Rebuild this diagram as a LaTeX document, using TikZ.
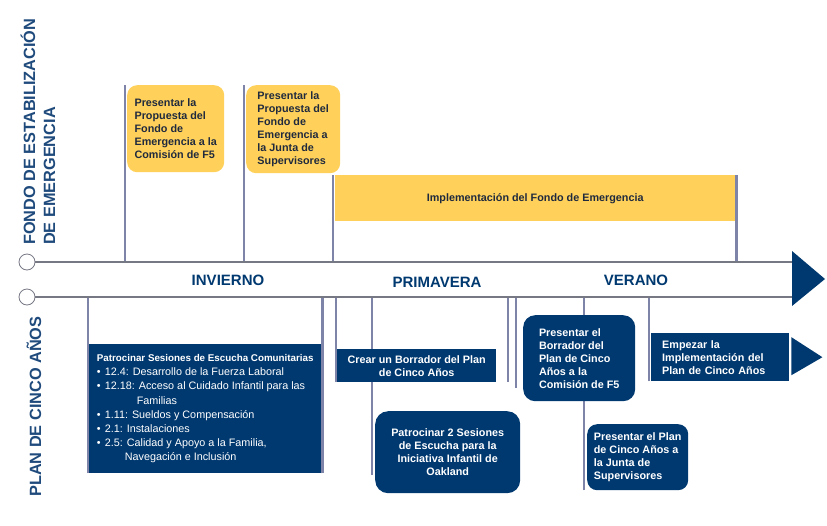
\documentclass[tikz,border=0pt]{standalone}
\usepackage{fontspec}
\setmainfont{Liberation Sans}
\usepackage{xcolor}
\usetikzlibrary{calc, backgrounds}

\definecolor{navy}{RGB}{0,57,112}
\definecolor{gold}{RGB}{255,209,90}
\definecolor{tickgray}{RGB}{125,132,168}
\definecolor{axisgray}{RGB}{118,120,132}
\definecolor{inkdark}{RGB}{32,42,62}
\definecolor{titleblue}{RGB}{31,74,124}

\begin{document}
\begin{tikzpicture}[
  x=1pt, y=-1pt,
  goldbox/.style={
    rectangle,
    fill=gold,
    rounded corners=10pt,
    inner sep=0pt,
    anchor=north west,
    align=left,
    text=inkdark,
    font=\fontsize{10.8}{13}\selectfont\bfseries
  },
  navybox/.style={
    rectangle,
    fill=navy,
    inner sep=0pt,
    anchor=north west,
    text=white,
    font=\fontsize{10.8}{13}\selectfont\bfseries
  },
  vlabel/.style={rotate=90, inner sep=0pt, anchor=west, align=left,
    text=titleblue, font=\fontsize{16.3}{20}\selectfont\bfseries},
  season/.style={text=navy, font=\fontsize{15}{18}\selectfont\bfseries},
  axisline/.style={draw=axisgray, line width=1.2pt},
  stub/.style={draw=axisgray, fill=white, circle, line width=0.8pt,
    minimum size=16pt, inner sep=0pt},
  tick/.style={draw=tickgray, line width=2.6pt}
]
  \useasboundingbox (0,0) rectangle (827,525);

  % Axis
  \node (c1) [stub] at (27,262) {};
  \node (c2) [stub] at (27,297) {};
  \coordinate (arr) at (792,279);
  \draw [axisline] (c1.east) -- (c1.east -| arr);
  \draw [axisline] (c2.east) -- (c2.east -| arr);
  \fill [navy] (arr |- 0,251) -- (825,279) -- (arr |- 0,306) -- cycle;

  \node (inv) [season] at (228,280) {INVIERNO};
  \node (pri) [season] at (437,282) {PRIMAVERA};
  \node (ver) [season] at (636,280) {VERANO};

  % Side titles
  \node (fse) [vlabel] at (38,245) {FONDO DE ESTABILIZACIÓN\\DE EMERGENCIA};
  \node (pca) [vlabel] at (34,497) {PLAN DE CINCO AÑOS};

  % Nodes
  \node (yA) [goldbox, minimum width=97pt, minimum height=87pt] at (127,85)
    {Presentar la\\Propuesta del\\Fondo de\\Emergencia a la\\Comisión de F5};
  \node (yB) [goldbox, minimum width=94pt, minimum height=88pt] at (246,85)
    {Presentar la\\Propuesta del\\Fondo de\\Emergencia a\\la Junta de\\Supervisores};
  \node (impl) [goldbox, rounded corners=0pt, align=center,
    minimum width=400pt, minimum height=46pt] at (335,175)
    {Implementación del Fondo de Emergencia};

  \node (listen) [navybox, align=left, font=\fontsize{10.8}{14.2}\selectfont,
    minimum width=232pt, minimum height=129pt] at (89,344)
    {{\fontsize{9.8}{14.2}\selectfont\bfseries Patrocinar Sesiones de Escucha Comunitarias}\\
     \makebox[8pt][l]{\textbullet}12.4: Desarrollo de la Fuerza Laboral\\
     \makebox[8pt][l]{\textbullet}12.18: Acceso al Cuidado Infantil para las\\
     \hspace*{40pt}Familias\\
     \makebox[8pt][l]{\textbullet}1.11: Sueldos y Compensación\\
     \makebox[8pt][l]{\textbullet}2.1: Instalaciones\\
     \makebox[8pt][l]{\textbullet}2.5: Calidad y Apoyo a la Familia,\\
     \hspace*{28pt}Navegación e Inclusión};
  \node (draft) [navybox, align=center, minimum width=159pt, minimum height=33pt]
    at (337,349) {Crear un Borrador del Plan\\de Cinco Años};
  \node (oic) [navybox, align=center, rounded corners=13pt,
    minimum width=145pt, minimum height=82pt] at (375,411)
    {Patrocinar 2 Sesiones\\de Escucha para la\\Iniciativa Infantil de\\Oakland};
  \node (dcom) [navybox, align=left, rounded corners=12pt,
    minimum width=112pt, minimum height=86pt] at (523,315)
    {Presentar el\\Borrador del\\Plan de Cinco\\Años a la\\Comisión de F5};
  \node (pjun) [navybox, align=left, rounded corners=10pt,
    minimum width=101pt, minimum height=66pt] at (587,424)
    {Presentar el Plan\\de Cinco Años a\\la Junta de\\Supervisores};
  \node (start) [navybox, align=left, inner xsep=11pt, text width=116pt,
    minimum height=48pt] at (651,333)
    {Empezar la\\Implementación del\\Plan de Cinco Años};
  \fill [navy] ($(start.east)+(2,-20)$) -- ($(start.east)+(33,0)$)
    -- ($(start.east)+(2,18)$) -- cycle;

  \coordinate (oicend) at (372,475);
  \coordinate (s1) at (508,382);
  \coordinate (s2) at (516,388);

  % Arrows
  \begin{pgfonlayer}{background}
    \draw [tick] ([xshift=-2pt]yA.north west) -- ([xshift=-2pt]yA.north west |- c1);
    \draw [tick] ([xshift=-2pt]yB.north west) -- ([xshift=-2pt]yB.north west |- c1);
    \draw [tick] ([xshift=-2pt]impl.north west) -- ([xshift=-2pt]impl.north west |- c1);
    \draw [tick] ([xshift=1pt]impl.north east) -- ([xshift=1pt]impl.north east |- c1);
    \draw [tick] ([xshift=-1pt]listen.south west) -- ([xshift=-1pt]listen.south west |- c2);
    \draw [tick] ([xshift=1pt]listen.south east) -- ([xshift=1pt]listen.south east |- c2);
    \draw [tick] ([xshift=-1pt]draft.south west) -- ([xshift=-1pt]draft.south west |- c2);
    \draw [tick] (oicend) -- (oicend |- c2);
    \draw [tick] (s1) -- (s1 |- c2);
    \draw [tick] (s2) -- (s2 |- c2);
    \draw [tick] ([xshift=-3pt]pjun.south west) -- ([xshift=-3pt]pjun.south west |- c2);
    \draw [tick] ([xshift=-2pt]start.south west) -- ([xshift=-2pt]start.south west |- c2);
  \end{pgfonlayer}

\end{tikzpicture}
\end{document}
